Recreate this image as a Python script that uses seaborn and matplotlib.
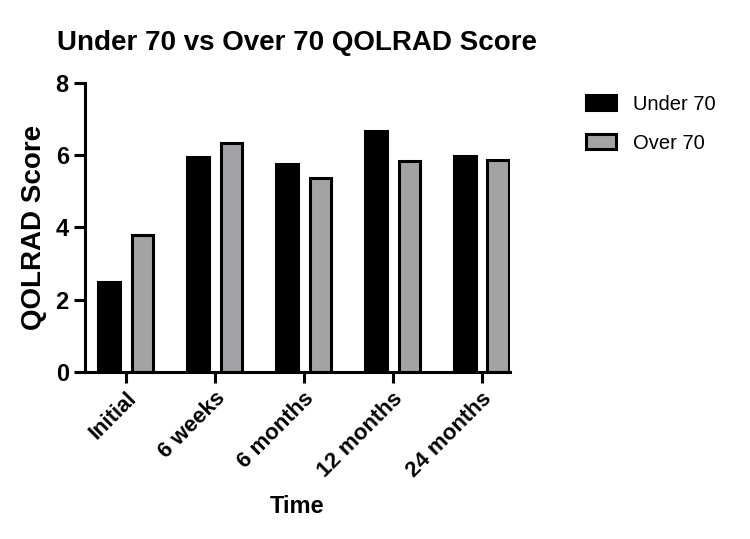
import pandas as pd
import seaborn as sns
import matplotlib.pyplot as plt

# ========= Data =========
time_points = ["Initial", "6 weeks", "6 months", "12 months", "24 months"]
under_70 = [2.50, 5.94, 5.77, 6.67, 5.99]
over_70 = [3.79, 6.34, 5.37, 5.85, 5.88]
groups = ["Under 70", "Over 70"]

df = pd.DataFrame({
    "Time": time_points * 2,
    "Score": under_70 + over_70,
    "Group": [groups[0]] * len(time_points) + [groups[1]] * len(time_points),
})

# ========= Style =========
sns.set_style("ticks", {"axes.edgecolor": "black", "text.color": "black",
                        "axes.labelcolor": "black", "xtick.color": "black",
                        "ytick.color": "black"})
plt.rcParams["font.family"] = ["Liberation Sans", "DejaVu Sans"]

fig = plt.figure(figsize=(7.5, 5.39), dpi=100)
ax = fig.add_axes([0.113, 0.31, 0.567, 0.536])

sns.barplot(
    data=df, x="Time", y="Score", hue="Group",
    palette={"Under 70": "black", "Over 70": "#a2a2a6"},
    width=0.745, gap=0.36, edgecolor="black", linewidth=2.2,
    ax=ax,
)

ax.set_ylim(0, 8)
ax.set_yticks([0, 2, 4, 6, 8])
ax.set_xlim(-0.46, 4.32)
sns.despine(ax=ax)
for side in ["left", "bottom"]:
    ax.spines[side].set_linewidth(2.2)
ax.tick_params(axis="both", width=2.2, length=8, labelsize=17)
for lbl in ax.get_yticklabels():
    lbl.set_fontweight("bold")
for lbl in ax.get_xticklabels():
    lbl.set_fontweight("bold")
    lbl.set_fontsize(16)
    lbl.set_rotation(45)
    lbl.set_ha("right")
    lbl.set_rotation_mode("anchor")

ax.set_ylabel("QOLRAD Score", fontsize=20, fontweight="bold", labelpad=6)
ax.set_xlabel("Time", fontsize=17, fontweight="bold", labelpad=10)
ax.set_title("Under 70 vs Over 70 QOLRAD Score", fontsize=20,
             fontweight="bold", pad=24)

ax.legend(loc="upper left", bbox_to_anchor=(0.757, 0.858),
          bbox_transform=fig.transFigure, frameon=False, fontsize=14.5,
          handlelength=1.5, handleheight=0.75, labelspacing=1.0,
          handletextpad=0.85)

plt.savefig("out.png", dpi=100)
plt.close()
